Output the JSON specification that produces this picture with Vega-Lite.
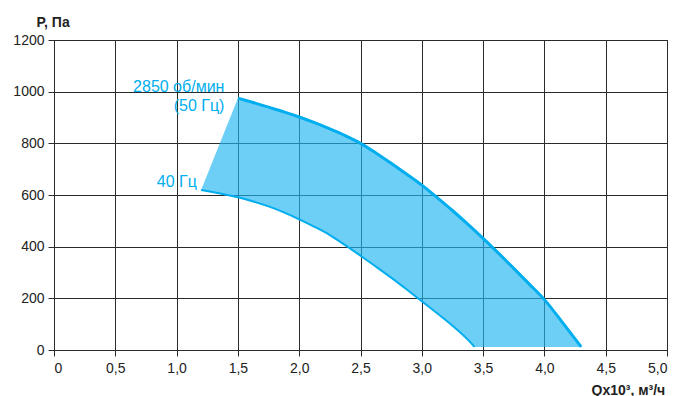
{
  "$schema": "https://vega.github.io/schema/vega-lite/v6.json",
  "width": 613,
  "height": 310,
  "autosize": {"type": "none"},
  "padding": {"left": 54, "top": 40, "right": 11, "bottom": 46},
  "background": "white",
  "config": {
    "view": {"stroke": "#2b2b2b", "strokeWidth": 1},
    "font": "Liberation Sans",
    "axis": {
      "labelFont": "Liberation Sans",
      "labelFontSize": 14,
      "labelColor": "#222222",
      "domainColor": "#2b2b2b",
      "tickColor": "#2b2b2b",
      "gridColor": "#2b2b2b",
      "gridOpacity": 1,
      "gridWidth": 1,
      "tickSize": 6,
      "titleFont": "Liberation Sans",
      "titleFontSize": 14,
      "titleFontWeight": "bold",
      "titleColor": "#222222"
    }
  },
  "datasets": {
    "band": [
      {"Q": 1.2, "upper": 619, "lower": 619},
      {"Q": 1.5, "upper": 975, "lower": 591},
      {"Q": 1.625, "upper": 958, "lower": 575},
      {"Q": 1.75, "upper": 940, "lower": 556},
      {"Q": 1.875, "upper": 922, "lower": 533},
      {"Q": 2.0, "upper": 902, "lower": 506},
      {"Q": 2.125, "upper": 880, "lower": 477},
      {"Q": 2.25, "upper": 856, "lower": 445},
      {"Q": 2.375, "upper": 830, "lower": 406},
      {"Q": 2.5, "upper": 800, "lower": 365},
      {"Q": 2.625, "upper": 763, "lower": 323},
      {"Q": 2.75, "upper": 723, "lower": 280},
      {"Q": 2.875, "upper": 681, "lower": 235},
      {"Q": 3.0, "upper": 638, "lower": 189},
      {"Q": 3.125, "upper": 590, "lower": 142},
      {"Q": 3.25, "upper": 540, "lower": 94},
      {"Q": 3.375, "upper": 487, "lower": 40},
      {"Q": 3.43, "upper": 463, "lower": 12},
      {"Q": 3.5, "upper": 432, "lower": 12},
      {"Q": 3.625, "upper": 375, "lower": 12},
      {"Q": 3.75, "upper": 316, "lower": 12},
      {"Q": 3.875, "upper": 256, "lower": 12},
      {"Q": 4.0, "upper": 195, "lower": 12},
      {"Q": 4.15, "upper": 105, "lower": 12},
      {"Q": 4.3, "upper": 12, "lower": 12}
    ],
    "labels": [
      {"Q": 1.39, "P": 1017, "text": "2850 об/мин"},
      {"Q": 1.39, "P": 943, "text": "(50 Гц)"},
      {"Q": 1.166, "P": 650, "text": "40 Гц"}
    ]
  },
  "layer": [
    {
      "data": {"name": "band"},
      "mark": {"type": "area", "color": "#1FB5F1", "opacity": 0.65, "interpolate": "linear"},
      "encoding": {
        "x": {
          "field": "Q", "type": "quantitative",
          "scale": {"domain": [0, 5], "nice": false},
          "axis": {
            "values": [0, 0.5, 1, 1.5, 2, 2.5, 3, 3.5, 4, 4.5, 5],
            "labelExpr": "datum.value == 0 ? '0' : replace(format(datum.value, '.1f'), '.', ',')",
            "labelPadding": 5,
            "title": "Qx10³, м³/ч",
            "titleAlign": "left",
            "titleBaseline": "alphabetic",
            "titleAnchor": "start",
            "titleX": 537,
            "titleY": 44
          }
        },
        "y": {
          "field": "upper", "type": "quantitative",
          "scale": {"domain": [0, 1200], "nice": false},
          "axis": {
            "values": [0, 200, 400, 600, 800, 1000, 1200],
            "format": "d",
            "labelPadding": 4,
            "title": "P, Па",
            "titleAngle": 0,
            "titleAlign": "left",
            "titleBaseline": "alphabetic",
            "titleX": -18,
            "titleY": -14
          }
        },
        "y2": {"field": "lower"}
      }
    },
    {
      "data": {"name": "band"},
      "transform": [{"filter": "datum.Q >= 1.5"}],
      "mark": {"type": "line", "color": "#00AEEF", "strokeWidth": 3, "interpolate": "monotone"},
      "encoding": {
        "x": {"field": "Q", "type": "quantitative"},
        "y": {"field": "upper", "type": "quantitative"}
      }
    },
    {
      "data": {"name": "band"},
      "transform": [{"filter": "datum.Q <= 3.43"}],
      "mark": {"type": "line", "color": "#00AEEF", "strokeWidth": 2, "interpolate": "monotone"},
      "encoding": {
        "x": {"field": "Q", "type": "quantitative"},
        "y": {"field": "lower", "type": "quantitative"}
      }
    },
    {
      "data": {"name": "labels"},
      "mark": {"type": "text", "align": "right", "baseline": "middle", "fontSize": 16, "color": "#00AEEF", "font": "Liberation Sans"},
      "encoding": {
        "x": {"field": "Q", "type": "quantitative"},
        "y": {"field": "P", "type": "quantitative"},
        "text": {"field": "text"}
      }
    }
  ]
}
